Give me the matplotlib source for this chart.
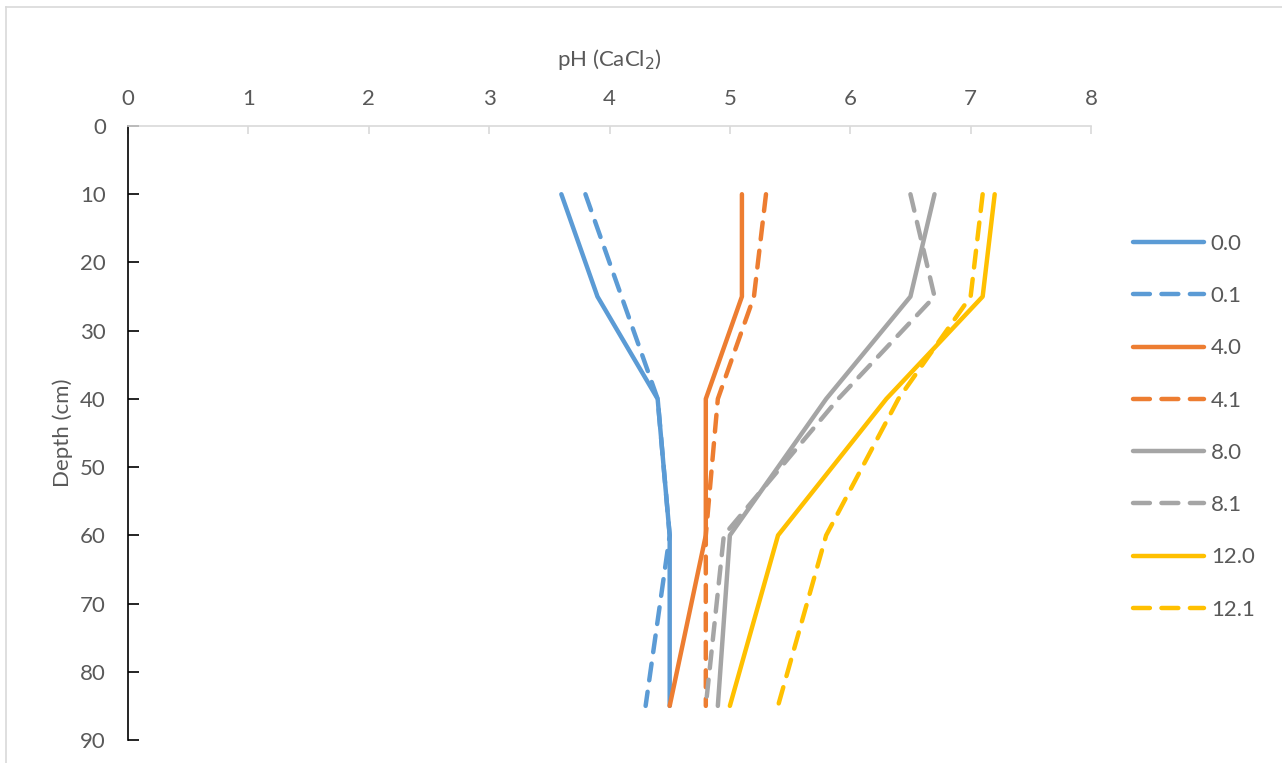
import matplotlib
matplotlib.use("Agg")
import matplotlib.pyplot as plt
from matplotlib.lines import Line2D

# depth of each sample (cm)
depths = [10, 25, 40, 60, 85]

# pH (CaCl2) per treatment
ph_00 = [3.6, 3.9, 4.4, 4.5, 4.5]
ph_01 = [3.8, 4.1, 4.4, 4.5, 4.3]
ph_40 = [5.1, 5.1, 4.8, 4.8, 4.5]
ph_41 = [5.3, 5.2, 4.9, 4.8, 4.8]
ph_80 = [6.7, 6.5, 5.8, 5.0, 4.9]
ph_81 = [6.5, 6.7, 5.9, 4.95, 4.8]
ph_120 = [7.2, 7.1, 6.3, 5.4, 5.0]
ph_121 = [7.1, 7.0, 6.4, 5.8, 5.4]

labels = ["0.0", "0.1", "4.0", "4.1", "8.0", "8.1", "12.0", "12.1"]
series = [ph_00, ph_01, ph_40, ph_41, ph_80, ph_81, ph_120, ph_121]
colors = ["#5B9BD5", "#5B9BD5", "#ED7D31", "#ED7D31",
          "#A5A5A5", "#A5A5A5", "#FFC000", "#FFC000"]
dashed = [False, True, False, True, False, True, False, True]

plt.rcParams['font.family'] = ['Lato', 'DejaVu Sans']
txt = "#595959"
fs = 16
lw = 3.2
dash = (0, (3.8, 2.6))

fig = plt.figure(figsize=(12.82, 7.63), dpi=100)
ax = fig.add_axes([128 / 1282, 1 - 740 / 763, (1091 - 128) / 1282, (740 - 126) / 763])

for vals, lab, col, d in zip(series, labels, colors, dashed):
    ax.plot(vals, depths, color=col, lw=lw, ls=dash if d else "-", label=lab,
            solid_capstyle="round", dash_capstyle="round")

ax.set_xlim(0, 8)
ax.set_ylim(90, 0)
ax.xaxis.tick_top()
ax.xaxis.set_label_position("top")
ax.set_xticks(range(0, 9))
ax.set_yticks(range(0, 91, 10))

for s in ["right", "bottom"]:
    ax.spines[s].set_visible(False)
ax.spines["top"].set_color("#D9D9D9")
ax.spines["top"].set_linewidth(1.2)
ax.spines["left"].set_color("black")
ax.spines["left"].set_linewidth(1.2)

ax.tick_params(axis="x", direction="in", length=6, color="#D9D9D9", width=1.2,
               labelsize=fs, labelcolor=txt, pad=12)
ax.tick_params(axis="y", direction="in", length=8, color="black", width=1.2,
               labelsize=fs, labelcolor=txt, pad=16)

ax.set_xlabel("pH (CaCl$_2$)", fontsize=fs, color=txt, labelpad=17)
ax.set_ylabel("Depth (cm)", fontsize=fs, color=txt, labelpad=5)

handles = [Line2D([], [], color=c, lw=lw, ls=dash if d else "-",
                  solid_capstyle="round", dash_capstyle="round")
           for c, d in zip(colors, dashed)]
leg = fig.legend(handles, labels, loc="upper left",
                 bbox_to_anchor=(1113 / 1282, 1 - 214 / 763),
                 frameon=False, fontsize=fs, handlelength=3.2,
                 handletextpad=0.3, labelspacing=1.45)
for t in leg.get_texts():
    t.set_color(txt)

# chart border (cropped at right and bottom)
fig.add_artist(Line2D([6 / 1282, 1], [1 - 7 / 763, 1 - 7 / 763],
                      color="#D9D9D9", lw=1.2, transform=fig.transFigure))
fig.add_artist(Line2D([6 / 1282, 6 / 1282], [0, 1 - 7 / 763],
                      color="#D9D9D9", lw=1.2, transform=fig.transFigure))

fig.savefig("out.png", dpi=100)
